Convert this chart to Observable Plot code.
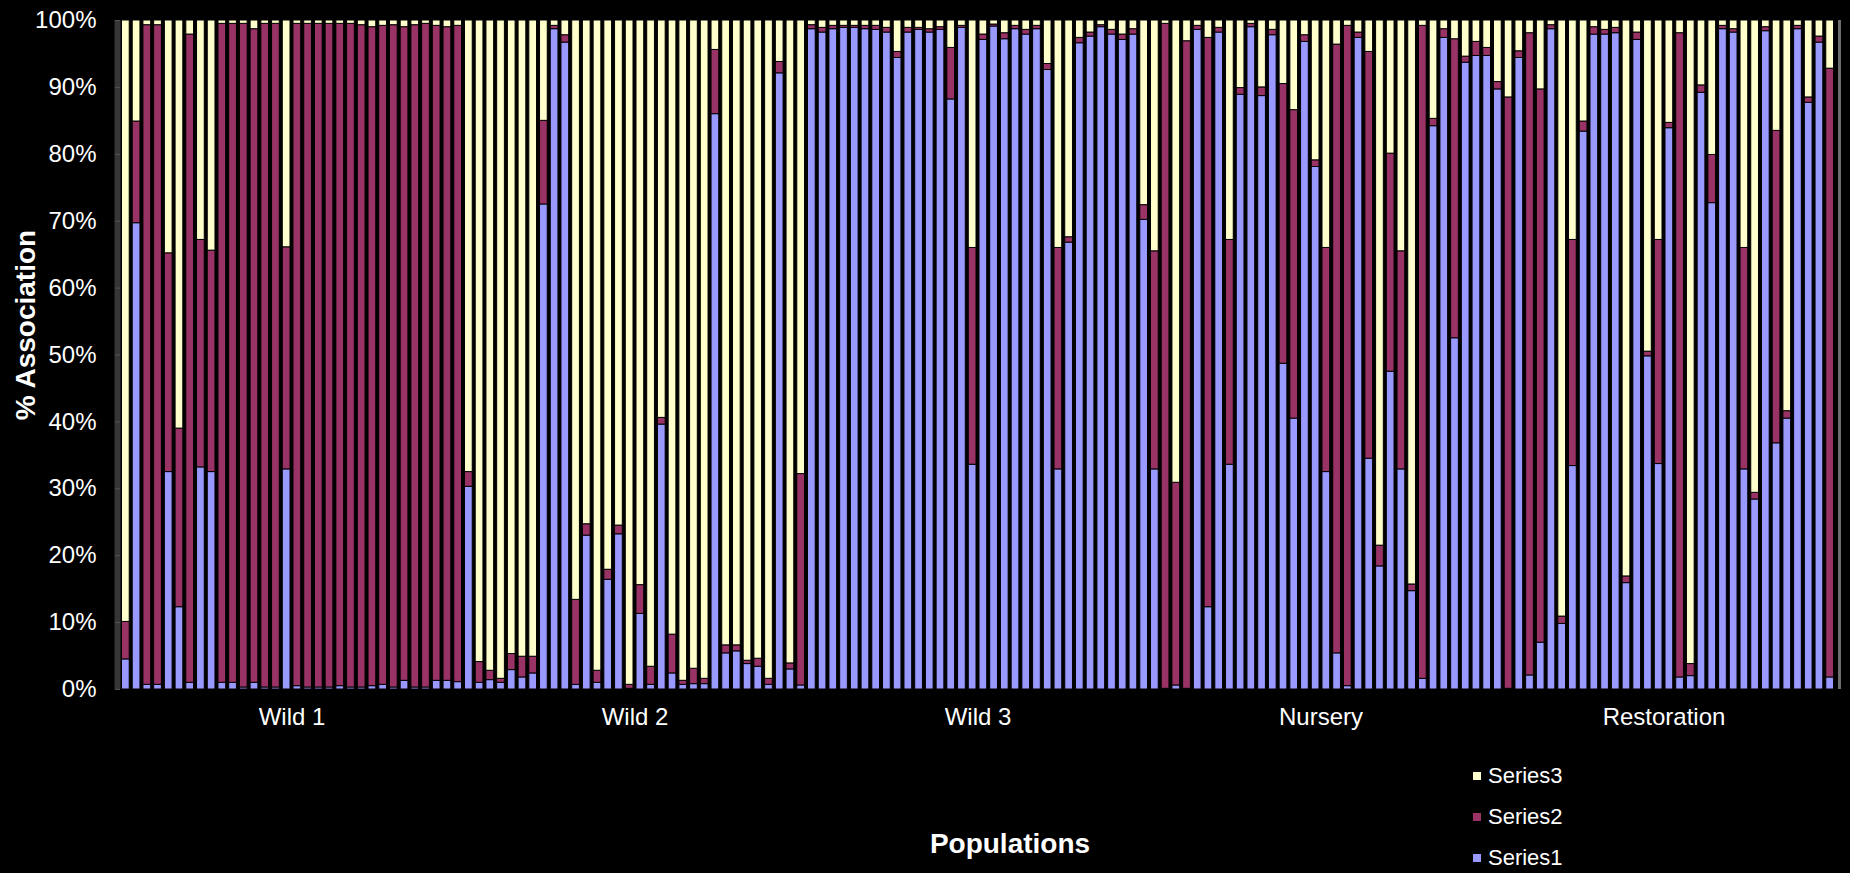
<!DOCTYPE html>
<html>
<head>
<meta charset="utf-8">
<script src="https://cdn.jsdelivr.net/npm/d3@7"></script>
<script src="https://cdn.jsdelivr.net/npm/@observablehq/plot@0.6"></script>
<style>
  html, body { margin: 0; padding: 0; background: #000; }
  #wrap { position: relative; width: 1850px; height: 873px; overflow: hidden;
          font-family: "Liberation Sans", Arial, sans-serif; color: #fff; }
  #chart svg { display: block; }
  .ylab { position: absolute; left: 26px; top: 325px; font-size: 28px; font-weight: bold;
          line-height: 1; white-space: nowrap; transform: translate(-50%, -50%) rotate(-90deg); }
  .xlab { position: absolute; left: 1010px; top: 830px; font-size: 28px; font-weight: bold;
          line-height: 1; white-space: nowrap; transform: translateX(-50%); }
  .leg { position: absolute; left: 1473px; display: flex; align-items: center; height: 22px;
         font-size: 22px; line-height: 22px; white-space: nowrap; }
  .leg span.sw { display: inline-block; width: 8px; height: 8px; margin-right: 7px; }
</style>
</head>
<body>
<div id="wrap"><div id="chart"></div></div>
<script>
// ---- data ----
const groups = ["Wild 1", "Wild 2", "Wild 3", "Nursery", "Restoration"];
const barsPerGroup = [32, 32, 32, 32, 32];
const seriesNames = ["Series1", "Series2", "Series3"];
const seriesColors = ["#9999FF", "#993366", "#FFFFCC"];
const yTicks = [0, 10, 20, 30, 40, 50, 60, 70, 80, 90, 100];

const series1 = [
  4.5, 69.7, 0.7, 0.7, 32.5, 12.3, 1.0, 33.2, 32.5, 1.0,
  1.0, 0.3, 1.0, 0.3, 0.3, 32.9, 0.5, 0.3, 0.3, 0.3,
  0.5, 0.3, 0.3, 0.5, 0.7, 0.3, 1.3, 0.3, 0.3, 1.3,
  1.3, 1.1, 30.3, 1.0, 1.4, 1.0, 2.9, 1.8, 2.4, 72.5,
  98.7, 96.7, 0.7, 23.0, 1.0, 16.4, 23.2, 0.1, 11.3, 0.7,
  39.6, 2.4, 0.7, 0.8, 0.8, 86.0, 5.4, 5.7, 3.8, 3.4,
  0.7, 92.1, 3.0, 0.6, 98.7, 98.2, 98.7, 98.9, 98.9, 98.7,
  98.6, 98.2, 94.4, 98.2, 98.6, 98.2, 98.6, 88.2, 98.9, 33.6,
  97.1, 99.1, 97.2, 98.7, 97.9, 98.7, 92.6, 32.9, 66.8, 96.6,
  97.6, 99.0, 97.9, 97.1, 97.9, 70.2, 32.9, 0.1, 0.6, 0.1,
  98.6, 12.3, 98.2, 33.6, 88.9, 99.0, 88.7, 97.8, 48.7, 40.5,
  96.8, 78.1, 32.5, 5.4, 0.5, 97.4, 34.5, 18.4, 47.5, 32.9,
  14.7, 1.6, 84.2, 97.4, 52.5, 93.7, 94.7, 94.7, 89.7, 0.1,
  94.4, 2.1, 7.0, 98.7, 9.8, 33.4, 83.4, 97.9, 97.9, 98.1,
  15.9, 97.1, 49.8, 33.7, 83.9, 1.8, 2.0, 89.2, 72.7, 98.7,
  98.2, 32.9, 28.4, 98.4, 36.8, 40.5, 98.7, 87.7, 96.7, 1.8
];
const series2 = [
  5.6, 15.2, 98.6, 98.6, 32.7, 26.7, 96.9, 34.0, 33.1, 98.5,
  98.5, 99.2, 97.7, 99.2, 99.2, 33.2, 99.0, 99.2, 99.2, 99.2,
  99.0, 99.2, 99.0, 98.5, 98.5, 99.0, 97.7, 99.0, 99.2, 97.9,
  97.7, 98.1, 2.2, 3.1, 1.4, 0.6, 2.4, 3.1, 2.5, 12.5,
  0.5, 1.1, 12.7, 1.7, 1.8, 1.5, 1.3, 0.6, 4.3, 2.7,
  1.0, 5.8, 0.6, 2.3, 0.8, 9.6, 1.2, 0.9, 0.5, 1.2,
  0.9, 1.7, 0.9, 31.6, 0.6, 0.7, 0.5, 0.3, 0.3, 0.5,
  0.6, 0.7, 0.9, 0.7, 0.3, 0.5, 0.4, 7.7, 0.3, 32.4,
  0.8, 0.3, 0.9, 0.5, 0.7, 0.5, 0.9, 33.1, 0.8, 0.8,
  0.6, 0.3, 0.7, 0.8, 0.8, 2.2, 32.6, 99.4, 30.3, 96.8,
  0.6, 85.1, 0.7, 33.6, 1.0, 0.5, 1.3, 0.8, 41.8, 46.1,
  1.0, 1.0, 33.5, 91.0, 98.7, 0.8, 60.8, 3.1, 32.6, 32.6,
  1.0, 97.6, 1.1, 1.3, 44.7, 0.9, 2.1, 1.2, 1.1, 88.4,
  1.0, 96.0, 82.7, 0.6, 1.1, 33.8, 1.5, 1.1, 0.7, 0.8,
  1.0, 1.1, 0.7, 33.5, 0.8, 96.3, 1.8, 1.1, 7.2, 0.5,
  0.5, 33.1, 1.0, 0.6, 46.7, 1.1, 0.5, 0.8, 0.9, 91.0
];
const series3 = [
  89.9, 15.1, 0.7, 0.7, 34.8, 61.0, 2.1, 32.8, 34.4, 0.5,
  0.5, 0.5, 1.3, 0.5, 0.5, 33.9, 0.5, 0.5, 0.5, 0.5,
  0.5, 0.5, 0.7, 1.0, 0.8, 0.7, 1.0, 0.7, 0.5, 0.8,
  1.0, 0.8, 67.5, 95.9, 97.2, 98.4, 94.7, 95.1, 95.1, 15.0,
  0.8, 2.2, 86.6, 75.3, 97.2, 82.1, 75.5, 99.3, 84.4, 96.6,
  59.4, 91.8, 98.7, 96.9, 98.4, 4.4, 93.4, 93.4, 95.7, 95.4,
  98.4, 6.2, 96.1, 67.8, 0.7, 1.1, 0.8, 0.8, 0.8, 0.8,
  0.8, 1.1, 4.7, 1.1, 1.1, 1.3, 1.0, 4.1, 0.8, 34.0,
  2.1, 0.6, 1.9, 0.8, 1.4, 0.8, 6.5, 34.0, 32.4, 2.6,
  1.8, 0.7, 1.4, 2.1, 1.3, 27.6, 34.5, 0.5, 69.1, 3.1,
  0.8, 2.6, 1.1, 32.8, 10.1, 0.5, 10.0, 1.4, 9.5, 13.4,
  2.2, 20.9, 34.0, 3.6, 0.8, 1.8, 4.7, 78.5, 19.9, 34.5,
  84.3, 0.8, 14.7, 1.3, 2.8, 5.4, 3.2, 4.1, 9.2, 11.5,
  4.6, 1.9, 10.3, 0.7, 89.1, 32.8, 15.1, 1.0, 1.4, 1.1,
  83.1, 1.8, 49.5, 32.8, 15.3, 1.9, 96.2, 9.7, 20.1, 0.8,
  1.3, 34.0, 70.6, 1.0, 16.5, 58.4, 0.8, 11.5, 2.4, 7.2
];

// ---- build table ----
const values = [series1, series2, series3];
const nBars = d3.sum(barsPerGroup);
const rows = [];
for (let i = 0; i < nBars; i++) {
  let base = 0;
  for (let k = 0; k < values.length; k++) {
    const v = values[k][i];
    rows.push({bar: i, x1: i, x2: i + 1, y1: base, y2: base + v, series: seriesNames[k]});
    base += v;
  }
}
const starts = [0, ...d3.cumsum(barsPerGroup)].slice(0, groups.length);
const groupCenters = starts.map((s, g) => s + barsPerGroup[g] / 2);
const nameByCenter = new Map(groupCenters.map((c, g) => [c, groups[g]]));

const chart = Plot.plot({
  width: 1850,
  height: 873,
  marginLeft: 120,
  marginRight: 15,
  marginTop: 20,
  marginBottom: 184,
  style: {background: "#000", color: "#fff", fontFamily: "'Liberation Sans', Arial, sans-serif"},
  x: {domain: [0, nBars], axis: null},
  y: {domain: [0, 100], axis: null},
  color: {domain: seriesNames, range: seriesColors},
  marks: [
    Plot.rect(rows, {x1: "x1", x2: "x2", y1: "y1", y2: "y2", fill: "series",
                     stroke: "#000", strokeWidth: 1, insetLeft: 1.5, insetRight: 1.5}),
    Plot.ruleX([0], {stroke: "#363636", strokeWidth: 6, dx: -3}),
    Plot.ruleX([nBars], {stroke: "#6e6e6e", strokeWidth: 3, dx: 4}),
    Plot.axisY({ticks: yTicks, tickFormat: d => d + "%", tickSize: 5, tickPadding: 19,
                fontSize: 24, stroke: "#555", fill: "#fff", label: null}),
    Plot.axisX(groupCenters, {tickSize: 0, tickPadding: 18, fontSize: 24, fill: "#fff",
                tickFormat: d => nameByCenter.get(d), label: null})
  ]
});
const wrap = document.getElementById("wrap");
document.getElementById("chart").appendChild(chart);

// axis titles
const yl = document.createElement("div");
yl.className = "ylab"; yl.textContent = "% Association"; wrap.appendChild(yl);
const xl = document.createElement("div");
xl.className = "xlab"; xl.textContent = "Populations"; wrap.appendChild(xl);

// legend (Series3 on top)
const legendTops = [765, 806, 847];
seriesNames.slice().reverse().forEach((name, j) => {
  const k = seriesNames.indexOf(name);
  const item = document.createElement("div");
  item.className = "leg";
  item.style.top = legendTops[j] + "px";
  const sw = document.createElement("span");
  sw.className = "sw"; sw.style.background = seriesColors[k];
  item.appendChild(sw);
  item.appendChild(document.createTextNode(name));
  wrap.appendChild(item);
});
</script>
</body>
</html>
